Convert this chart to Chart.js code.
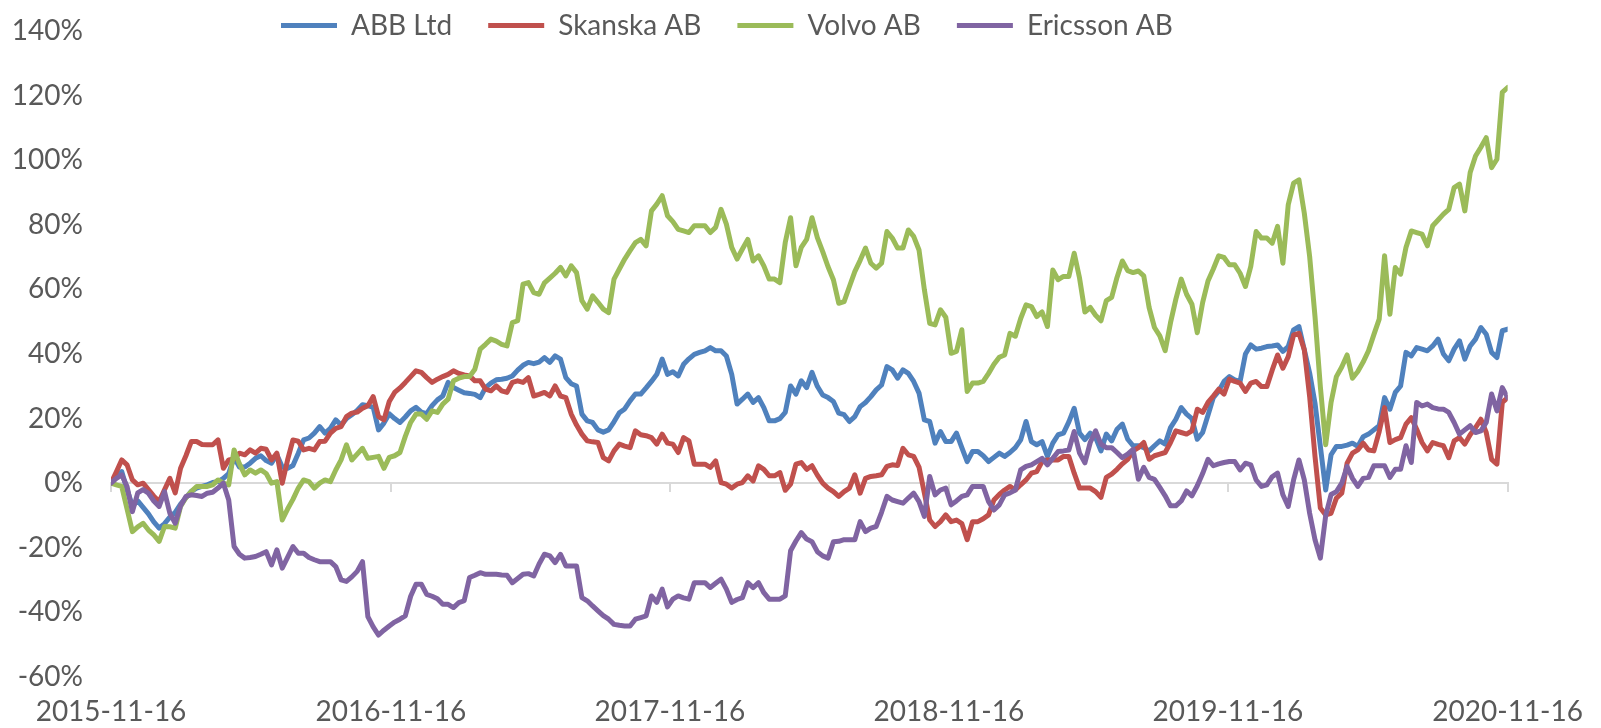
<!DOCTYPE html>
<html>
<head>
<meta charset="utf-8">
<script src="https://cdn.jsdelivr.net/npm/chart.js@4.4.1/dist/chart.umd.min.js"></script>
<style>
html,body{margin:0;padding:0;background:#ffffff;}
#wrap{width:1601px;height:728px;position:relative;}
</style>
</head>
<body>
<div id="wrap"><canvas id="c" width="1601" height="728"></canvas></div>
<script>
// ---- data (weekly, % change since 2015-11-16) ----
const startDate = '2015-11-16';
const tickLabels = ['2015-11-16','2016-11-16','2017-11-16','2018-11-16','2019-11-16','2020-11-16'];
const seriesNames = ['ABB Ltd','Skanska AB','Volvo AB','Ericsson AB'];
const seriesColors = ['#4F81BD','#C0504D','#9BBB59','#8064A2'];
const yMin = -60, yMax = 140, yStep = 20;

const abb = [
 0, 2, 3.6, -2, -7, -5.5, -7.5, -9.5, -12, -13.9,
 -12.5, -10.5, -9, -6.5, -4.5, -2.5, -1.5, -1, -0.5, 0.2,
 0.5, 1.5, 3, 8, 5, 5, 6.2, 7.7, 8.5, 7,
 6.2, 8.8, 5, 4.6, 5.5, 9.3, 13.4, 14, 15.5, 17.5,
 15.5, 17, 19.6, 18, 20, 21.2, 22.5, 24.3, 24, 23.5,
 16.5, 18.6, 21.5, 20, 18.8, 20.5, 22.4, 23.5, 22, 21.5,
 24, 25.8, 27, 31.2, 29.6, 28.8, 28, 27.8, 27.5, 26.5,
 29.6, 31, 32, 32.2, 32.5, 33.2, 35, 36.5, 37.4, 37,
 37.5, 38.9, 37.4, 39.4, 38.4, 32.7, 30.8, 30.1, 21.4, 19.3,
 18.8, 16.5, 15.8, 16.5, 19, 21.8, 23, 25.5, 27.6, 27.6,
 29.5, 31.5, 33.7, 38.4, 33.7, 34.5, 33.2, 36.8, 38.5, 39.9,
 40.5, 41, 42, 41, 41, 39.4, 33.7, 24.5, 26, 27.6,
 25, 26.5, 23.4, 19.3, 19.3, 20, 21.9, 30.1, 27.6, 31.7,
 29.6, 34.3, 30, 27.3, 26.5, 25.3, 21.7, 21.2, 19.1, 20.6,
 23.7, 25, 26.8, 28.9, 30.4, 36.1, 35.1, 32.5, 35.1, 34,
 31.5, 27.9, 19.6, 19.1, 12.4, 16, 12.9, 12.9, 15.5, 11,
 6.7, 9.8, 9.8, 8.5, 6.7, 8, 9.3, 8.3, 9.5, 11,
 13.4, 19.1, 12.9, 11.9, 12.9, 8.3, 12.4, 15, 15.5, 19,
 23.2, 15.5, 13.5, 15.5, 14.1, 10, 15.2, 13.1, 16.7, 18.3,
 13.6, 11.6, 11.6, 11, 10, 11.6, 13.1, 12.1, 17.2, 19.8,
 23.4, 21.4, 20, 13.6, 15.7, 21, 26.5, 28.5, 31.5, 33,
 32, 31.5, 40, 42.8, 41.5, 41.8, 42.3, 42.5, 42.8, 40.8,
 42.3, 47.5, 48.5, 41.3, 34.1, 24.8, 11.4, -2.1, 8.8, 11.4,
 11.4, 11.8, 12.4, 11.4, 14.4, 15.2, 16.5, 17.8, 26.5, 22.9,
 28.1, 30.1, 40.5, 39.4, 42, 41.5, 41, 42.5, 44.6, 40,
 37.9, 41.5, 44.1, 38.4, 42.5, 44.6, 48.2, 46.1, 40.5, 38.9,
 47.2, 47.7
];

const skanska = [
 0, 3.5, 7.2, 5.7, 1, -0.5, 0, -2, -4, -5.7,
 -2, 1.5, -3, 4.6, 8.5, 12.9, 12.9, 12, 11.9, 11.9,
 13.4, 4.6, 7.2, 7.5, 9.3, 8.8, 10.3, 9.3, 10.8, 10.5,
 7.2, 9.3, 0, 7.2, 13.4, 13, 10.3, 10.8, 10.3, 12.9,
 13, 15.5, 17, 17.5, 20.6, 21.7, 22, 23.2, 24, 26.8,
 20.6, 19.6, 25.3, 28.1, 29.5, 31.2, 33, 34.8, 34.3, 32.7,
 31.2, 32.2, 33, 33.7, 34.8, 34, 33.5, 33.2, 31.7, 31.7,
 29.1, 28.6, 30.1, 28.6, 28.1, 31.2, 31.7, 31.2, 32.7, 27,
 27.5, 28.1, 27, 30.1, 27, 26.5, 21.4, 18, 15.2, 13.1,
 12.8, 12.6, 7.9, 6.9, 10, 12.1, 11.5, 11, 16.2, 15,
 14.7, 14.1, 12.1, 15.2, 12.4, 12.1, 9.5, 14.1, 13.1, 5.9,
 5.9, 5.9, 4.9, 6.9, 0.2, -0.3, -1.5, -0.3, 0.2, 2.3,
 0.7, 5.4, 4.3, 2.3, 2.3, 3.3, -2.2, -0.3, 5.9, 6.4,
 4.3, 5.4, 2.5, 0, -1.5, -2.6, -4.1, -2.6, -1.5, 2.6,
 -3.1, 1.5, 2.1, 2.3, 2.6, 5.2, 5.7, 5.5, 10.8, 8.8,
 8.3, 5, -3, -11.4, -13.4, -11.9, -9.8, -11.9, -11.4, -12.5,
 -17.5, -11.9, -11.9, -11, -9.8, -5.2, -3.5, -2.1, -1, -2.1,
 -0.5, 1, 3.1, 3.6, 6.7, 7.2, 7.2, 7.2, 8.3, 8.3,
 3.1, -1.5, -1.5, -1.5, -2.6, -4.4, 1.8, 2.8, 4.3, 6,
 7.4, 10, 11, 12.6, 7.4, 8.5, 9, 9.5, 12.6, 16.2,
 15.7, 15.2, 16.2, 22.9, 21.9, 25, 27, 29.1, 27.6, 32.2,
 31.5, 31, 28.4, 31, 31.5, 29.9, 29.9, 35, 39.7, 35.6,
 39.2, 45.9, 46.4, 41.3, 26.8, 8.3, -7.7, -9.8, -9.3, -4.6,
 -3.1, 6.2, 9.3, 10.3, 12.4, 10.3, 10, 16, 23.4, 12.6,
 13.5, 14.1, 18.3, 20.3, 16.7, 12.6, 10, 12.6, 12, 11.6,
 7.9, 13.1, 14.1, 12.1, 15, 17.2, 19.8, 15.7, 7.4, 5.9,
 25, 26.5
];

const volvo = [
 0, -0.5, -1, -8, -15, -13.5, -12.4, -14.5, -16, -18,
 -13.4, -13.5, -13.9, -7.2, -4.5, -2.6, -1, -1, -1, -0.5,
 1, 0, -0.5, 10.3, 6, 2.6, 4.1, 3.1, 4.1, 3,
 0, 0.5, -11.4, -8, -5, -1.5, 1, 0.5, -1.5, 0,
 1, 0.5, 4.1, 7.2, 11.9, 7.2, 9, 10.8, 7.7, 8,
 8.3, 4.6, 8, 8.5, 9.5, 14.5, 18.8, 21.4, 21.4, 19.8,
 22.4, 21.9, 24.5, 26, 31.7, 32.5, 33, 33, 35.3, 41.5,
 43, 44.6, 44, 43, 42.5, 49.7, 50.3, 61.6, 62.1, 59,
 58.5, 62, 63.5, 65, 66.8, 64.2, 67.3, 65.2, 56.5, 53.9,
 58, 56, 53.9, 52.8, 63.2, 66.3, 69.4, 72, 74.5, 75.5,
 73.5, 84.3, 86.4, 89, 82.8, 81, 78.6, 78.1, 77.6, 79.7,
 79.7, 79.7, 77.6, 79.2, 84.8, 80.2, 73, 69.4, 72.5, 75.5,
 68.8, 70.4, 67.3, 63.2, 63.2, 62.1, 74.5, 82.2, 67.3, 73,
 75.5, 82.2, 76, 71.7, 67, 63, 55.7, 56.2, 60.9, 65.5,
 69, 72.8, 68.1, 66.6, 68.1, 77.9, 75.9, 72.8, 72.8, 78.4,
 76.4, 72.2, 59.9, 49.5, 49, 53.7, 51.4, 40.2, 40.8, 47.5,
 28.4, 31, 31, 31.5, 34, 36.8, 39, 39.7, 46.4, 45.5,
 51, 55.2, 54.7, 51.6, 53, 48.5, 66, 63, 64, 64,
 71.2, 63.5, 53, 54.4, 52, 50.3, 56.5, 57.5, 63.7, 68.8,
 65.8, 65.2, 65.7, 64.2, 54.4, 48.2, 45.6, 41, 49.7, 57,
 63.2, 58.5, 55.4, 46.6, 55.9, 62.6, 66.3, 70.4, 69.9, 67.6,
 67.6, 65, 60.9, 67.1, 77.9, 75.9, 75.9, 74.3, 79.5, 68.1,
 86.2, 92.9, 93.9, 83.6, 70.2, 51.6, 29.9, 11.9, 25, 33,
 36, 39.7, 32.5, 34.6, 37.5, 41, 46, 50.8, 70.4, 52.3,
 66.8, 64.7, 73, 78.1, 77.6, 77.1, 73.5, 79.7, 81.5, 83.3,
 84.8, 91.5, 92.6, 84.3, 96.2, 101.3, 104, 107, 97.7, 100.3,
 121, 122.5
];

const ericsson = [
 0, 1.5, 2.6, -1, -8.8, -3, -2, -3.1, -5.5, -7.2,
 -2.6, -9.3, -12.4, -7, -4.1, -3.6, -3.8, -4.1, -3.1, -2.8,
 -1.5, 0, -5.2, -19.6, -22, -23.2, -23, -22.7, -22, -21.2,
 -25.3, -20.6, -26.3, -23, -19.6, -21.7, -21.7, -23, -23.7, -24.3,
 -24.3, -24.3, -25.8, -29.9, -30.4, -29, -27.3, -24.3, -41.3, -44.5,
 -47, -45.5, -44.2, -43, -42.1, -41.1, -35, -31.3, -31.3, -34.4,
 -35, -35.8, -37.5, -37.5, -38.5, -37, -36.4, -29.2, -28.5, -27.7,
 -28.2, -28.2, -28.2, -28.4, -28.5, -30.8, -29.5, -28.2, -28, -28.7,
 -25, -22, -22.5, -24.6, -22, -25.6, -25.6, -25.6, -35.4, -36.4,
 -38, -39.5, -41, -42.1, -43.7, -44, -44.2, -44.2, -42.1, -41.6,
 -41.1, -34.9, -36.9, -32.8, -38.3, -35.9, -34.9, -35.5, -35.9, -30.8,
 -30.8, -30.8, -32.3, -31, -29.7, -32.8, -36.9, -36, -35.4, -30.8,
 -32.3, -30.8, -33.9, -35.9, -35.9, -35.9, -34.9, -20.9, -17.9, -15.3,
 -17.3, -18.1, -21.2, -22.5, -23.2, -18.1, -18, -17.5, -17.5, -17.5,
 -11.9, -15, -13.9, -13.4, -9, -4.1, -5.2, -5.7, -6.2, -4.6,
 -3.1, -5.7, -10.3, 2.1, -3.6, -2.1, -1.5, -6.7, -5.5, -4.1,
 -3.6, -1, -1, -1, -5.7, -8.3, -6.7, -3.6, -3, -2.1,
 4.1, 5.2, 5.7, 6.7, 7.7, 5.7, 7.7, 9.8, 10, 10.3,
 16, 9.3, 6.3, 12.6, 16.2, 12.1, 11, 11, 9.5, 7.9,
 9, 10.5, 1.2, 4.9, 1.8, 1.2, -1.3, -3.9, -7, -7,
 -5.5, -2.4, -3.9, -0.8, 3, 7.4, 5.4, 6, 6.4, 6.7,
 6.7, 4.1, 6.2, 5.7, 1, -1, -0.5, 2, 3.1, -3.6,
 -7.2, 1, 7.2, 1, -9.3, -17.5, -23.2, -10, -3.5, -2.6,
 0, 5.2, 1.5, -1, 1.5, 1.8, 5.4, 5.4, 5.4, 1.8,
 4.3, 4.3, 11.6, 6.4, 25, 23.9, 24.5, 23.4, 23, 22.9,
 21.9, 18.8, 15.2, 16.5, 17.8, 15.7, 16.2, 18.8, 27.6, 22.4,
 29.6, 26.5
];

const seriesValues = [abb, skanska, volvo, ericsson];

// ---- helpers: dates -> day offsets from start ----
const DAY_MS = 86400000;
const dayOf = (s) => Math.round((Date.parse(s) - Date.parse(startDate)) / DAY_MS);
const weekDates = abb.map((_, i) => new Date(Date.parse(startDate) + i * 7 * DAY_MS).toISOString().slice(0, 10));
const weekDays = weekDates.map(dayOf);
const tickDays = tickLabels.map(dayOf);
const xMin = tickDays[0], xMax = tickDays[tickDays.length - 1];

// ---- style ----
const FONT_FAMILY = 'Lato, "Open Sans", sans-serif';
const FONT_SIZE = 28;
const TEXT_COLOR = '#595959';
const AXIS_COLOR = '#d9d9d9';
const LEG_PAD = 36;
const LEG_X = 281;
const LEG_Y = 25.5;

Chart.defaults.font.family = FONT_FAMILY;
Chart.defaults.font.size = FONT_SIZE;
Chart.defaults.color = TEXT_COLOR;

const legendPlace = {
  id: 'legendPlace',
  afterLayout(chart) {
    const lg = chart.legend;
    if (!lg) return;
    const w = lg.right - lg.left;
    lg.left = LEG_X - LEG_PAD;
    lg.right = lg.left + w;
    lg.top = LEG_Y - LEG_PAD - FONT_SIZE / 2;
    lg.bottom = LEG_Y + FONT_SIZE;
    lg.height = lg.bottom - lg.top;
  }
};

const datasets = seriesNames.map((name, k) => ({
  label: name,
  data: seriesValues[k].map((v, i) => ({ x: weekDays[i], y: v })),
  borderColor: seriesColors[k],
  backgroundColor: seriesColors[k],
  borderWidth: 5,
  borderCapStyle: 'round',
  borderJoinStyle: 'round',
  pointRadius: 0,
  pointHoverRadius: 0,
  tension: 0,
  fill: false,
  order: seriesNames.length - k
}));

const xTickSetup = (scale) => { scale.ticks = tickDays.map(v => ({ value: v })); };

new Chart(document.getElementById('c'), {
  type: 'line',
  data: { datasets },
  plugins: [legendPlace],
  options: {
    responsive: false,
    animation: false,
    devicePixelRatio: 1,
    layout: { padding: { left: 0, right: 81, top: 0, bottom: 0 } },
    plugins: {
      tooltip: { enabled: false },
      title: { display: false },
      legend: {
        display: true,
        position: 'top',
        align: 'start',
        maxHeight: 31,
        labels: {
          usePointStyle: true,
          pointStyle: 'line',
          pointStyleWidth: 56,
          padding: LEG_PAD,
          color: TEXT_COLOR,
          font: { family: FONT_FAMILY, size: FONT_SIZE },
          sort: (a, b) => a.datasetIndex - b.datasetIndex
        }
      }
    },
    scales: {
      y: {
        type: 'linear',
        position: 'left',
        min: yMin,
        max: yMax,
        ticks: {
          stepSize: yStep,
          padding: 28,
          color: TEXT_COLOR,
          font: { family: FONT_FAMILY, size: FONT_SIZE },
          callback: (v) => v + '%'
        },
        grid: { display: false, drawTicks: false },
        border: { display: false },
        afterFit: (s) => { s.width = 111; s.paddingTop = 0; s.paddingBottom = 0; }
      },
      x: {
        type: 'linear',
        position: { y: 0 },
        min: xMin,
        max: xMax,
        afterBuildTicks: xTickSetup,
        afterFit: (s) => { s.height = 0; },
        ticks: { display: false },
        grid: { display: true, drawOnChartArea: false, drawTicks: true, tickLength: 8, color: AXIS_COLOR, lineWidth: 2 },
        border: { display: true, color: AXIS_COLOR, width: 2 }
      },
      x2: {
        type: 'linear',
        position: 'bottom',
        min: xMin,
        max: xMax,
        afterBuildTicks: xTickSetup,
        afterFit: (s) => { s.height = 51; },
        ticks: {
          autoSkip: false,
          maxRotation: 0,
          minRotation: 0,
          padding: 18,
          color: TEXT_COLOR,
          font: { family: FONT_FAMILY, size: FONT_SIZE },
          callback: (v, i) => tickLabels[i]
        },
        grid: { display: false, drawTicks: false },
        border: { display: false }
      }
    }
  }
});
</script>
</body>
</html>
